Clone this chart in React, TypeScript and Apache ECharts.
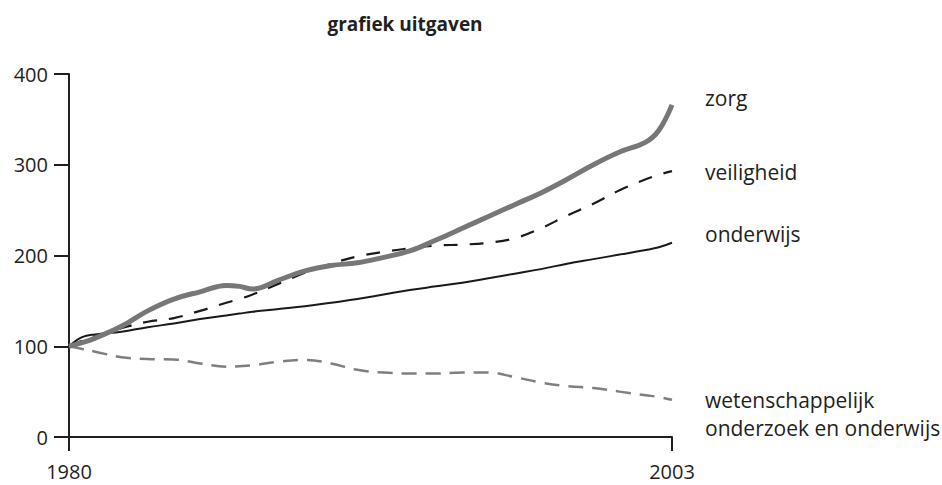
import React, { useEffect, useRef } from "react";
import * as echarts from "echarts";

const title = "grafiek uitgaven";
const years = [1980, 1980.5, 1981, 1982, 1983, 1984, 1985, 1986, 1986.5, 1987, 1988, 1989, 1990, 1991, 1992, 1993, 1994, 1995, 1996, 1997, 1998, 1999, 2000, 2001, 2002, 2002.5, 2003];
const zorg = [100, 104, 109, 122, 139, 152, 160, 167, 166, 163, 173, 183, 189, 192, 198, 205, 217, 230, 243, 256, 269, 284, 300, 314, 325, 338, 366];
const veiligheid = [100, 106, 111, 120, 127, 131, 139, 148, 152, 157, 169, 181, 191, 199, 204, 208, 211, 212, 214, 219, 230, 244, 257, 272, 284, 289, 293];
const onderwijs = [100, 110, 113, 116, 121, 125, 130, 134, 136, 138, 141, 144, 148, 152, 157, 162, 166, 170, 175, 180, 185, 191, 196, 201, 206, 209, 214];
const wetenschap = [100, 97, 94, 88, 86, 85.5, 81, 77.5, 78, 79, 83, 85, 81, 74, 71, 70, 70, 71, 71, 66, 60, 56, 54, 50, 46, 44, 41];
const seriesNames = ["zorg", "veiligheid", "onderwijs", "wetenschappelijk\nonderzoek en onderwijs"];
const xTicks = [1980, 2003];
const yTicks = [0, 100, 200, 300, 400];

const FONT = "'Open Sans', sans-serif";

function pairs(vals: number[]) {
  return years.map((y, i) => [y, vals[i]]);
}

export default function App() {
  const ref = useRef<HTMLDivElement>(null);
  useEffect(() => {
    document.body.style.margin = "0";
    const chart = echarts.init(ref.current!, undefined, { renderer: "svg" });
    const labelBase = {
      show: true,
      fontFamily: FONT,
      fontSize: 21,
      color: "#231f20",
      distance: 33,
      align: "left" as const,
      verticalAlign: "middle" as const,
    };
    chart.setOption({
      animation: false,
      backgroundColor: "#ffffff",
      graphic: [
        {
          type: "text",
          x: 405,
          y: 24,
          style: {
            text: title,
            fontFamily: FONT,
            fontWeight: "bold",
            fontSize: 19,
            fill: "#231f20",
            textAlign: "center",
            textVerticalAlign: "middle",
          },
        },
      ],
      grid: { left: 69, right: 270, top: 74, bottom: 48, containLabel: false, outerBoundsMode: "none" },
      xAxis: {
        type: "value",
        min: xTicks[0],
        max: xTicks[xTicks.length - 1],
        splitLine: { show: false },
        axisLine: { show: true, lineStyle: { color: "#231f20", width: 2 } },
        axisTick: { show: true, length: 14, lineStyle: { color: "#231f20", width: 2 }, customValues: xTicks },
        axisLabel: {
          customValues: xTicks,
          fontFamily: FONT,
          fontSize: 20,
          color: "#231f20",
          margin: 24,
          formatter: (v: number) => String(v),
        },
      },
      yAxis: {
        type: "value",
        min: 0,
        max: 400,
        interval: 100,
        splitLine: { show: false },
        axisLine: { show: true, lineStyle: { color: "#231f20", width: 2 } },
        axisTick: { show: true, length: 15, lineStyle: { color: "#231f20", width: 2 }, customValues: yTicks },
        axisLabel: { fontFamily: FONT, fontSize: 20, color: "#231f20", margin: 21, customValues: yTicks },
      },
      series: [
        {
          name: "wetenschap",
          type: "line",
          data: pairs(wetenschap),
          smooth: 0.4,
          showSymbol: false,
          lineStyle: { color: "#7f7f7f", width: 2.5, type: [15, 9] },
          endLabel: { ...labelBase, formatter: seriesNames[3], lineHeight: 28, offset: [0, 14] },
        },
        {
          name: "onderwijs",
          type: "line",
          data: pairs(onderwijs),
          smooth: 0.4,
          showSymbol: false,
          lineStyle: { color: "#1a1a1a", width: 2 },
          endLabel: { ...labelBase, formatter: seriesNames[2], offset: [0, -9] },
        },
        {
          name: "veiligheid",
          type: "line",
          data: pairs(veiligheid),
          smooth: 0.4,
          showSymbol: false,
          lineStyle: { color: "#1a1a1a", width: 2.2, type: [14, 12] },
          endLabel: { ...labelBase, formatter: seriesNames[1], offset: [0, 1] },
        },
        {
          name: "zorg",
          type: "line",
          data: pairs(zorg),
          smooth: 0.4,
          showSymbol: false,
          lineStyle: { color: "#777777", width: 5 },
          endLabel: { ...labelBase, formatter: seriesNames[0], offset: [0, -7] },
        },
      ],
    });
    return () => chart.dispose();
  }, []);
  return <div ref={ref} style={{ width: 942, height: 485 }} />;
}
